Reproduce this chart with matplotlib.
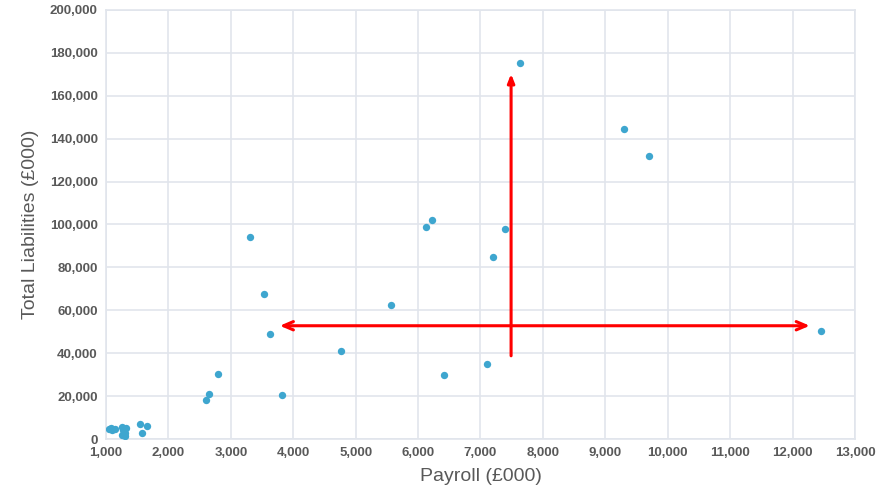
import matplotlib
matplotlib.use('Agg')
import matplotlib.pyplot as plt
from matplotlib.ticker import FuncFormatter

# --- DATA (£000) ---
payroll = [1050, 1100, 1150, 1080, 1250, 1280, 1260, 1300, 1320, 1300,
           1550, 1650, 1580, 2600, 2650, 2800, 3300, 3530, 3630, 3820,
           4770, 5570, 6130, 6220, 6420, 7100, 7200, 7400, 7630, 9300,
           9700, 12450]
liabilities = [4600, 4000, 4800, 5200, 5500, 4000, 2000, 1500, 5000, 3000,
               7000, 6000, 3000, 18000, 21000, 30500, 94000, 67500, 49000, 20500,
               41000, 62500, 99000, 102000, 30000, 35000, 85000, 98000, 175500, 144500,
               132000, 50500]

# arrows: horizontal double-headed and vertical single-headed
h_arrow_y = 52800
h_arrow_x = (3740, 12320)
v_arrow_x = 7490
v_arrow_y = (37500, 171500)

plt.rcParams['font.family'] = ['Liberation Sans', 'DejaVu Sans']

fig = plt.figure(figsize=(8.92, 4.92), dpi=100)
ax = fig.add_axes([106 / 892, 1 - 439 / 492, (855 - 106) / 892, (439 - 10) / 492])

grid_c = '#e1e5ec'
ax.scatter(payroll, liabilities, s=28, color='#3ea6cf', zorder=3, linewidths=0)

ax.set_xlim(1000, 13000)
ax.set_ylim(0, 200000)
ax.set_xticks(range(1000, 13001, 1000))
ax.set_yticks(range(0, 200001, 20000))
fmt = FuncFormatter(lambda v, p: f"{int(v):,}")
ax.xaxis.set_major_formatter(fmt)
ax.yaxis.set_major_formatter(fmt)
ax.grid(True, color=grid_c, linewidth=1.2, zorder=0)
ax.set_axisbelow(True)
for s in ax.spines.values():
    s.set_color(grid_c)
    s.set_linewidth(1.2)
ax.tick_params(length=0, labelsize=9.5, colors='#595959', pad=6)
for lbl in ax.get_xticklabels() + ax.get_yticklabels():
    lbl.set_fontweight('bold')

ax.set_xlabel('Payroll (£000)', fontsize=14, color='#595959', labelpad=6)
ax.set_ylabel('Total Liabilities (£000)', fontsize=14, color='#595959', labelpad=8)

ax.annotate('', xy=(h_arrow_x[0], h_arrow_y), xytext=(h_arrow_x[1], h_arrow_y),
            arrowprops=dict(arrowstyle='<->,head_length=0.7,head_width=0.3', color='#ff0000', lw=2.2),
            zorder=4)
ax.annotate('', xy=(v_arrow_x, v_arrow_y[1]), xytext=(v_arrow_x, v_arrow_y[0]),
            arrowprops=dict(arrowstyle='-|>,head_length=0.5,head_width=0.2', color='#ff0000', lw=2.2),
            zorder=4)

fig.savefig('out.png', dpi=100)
